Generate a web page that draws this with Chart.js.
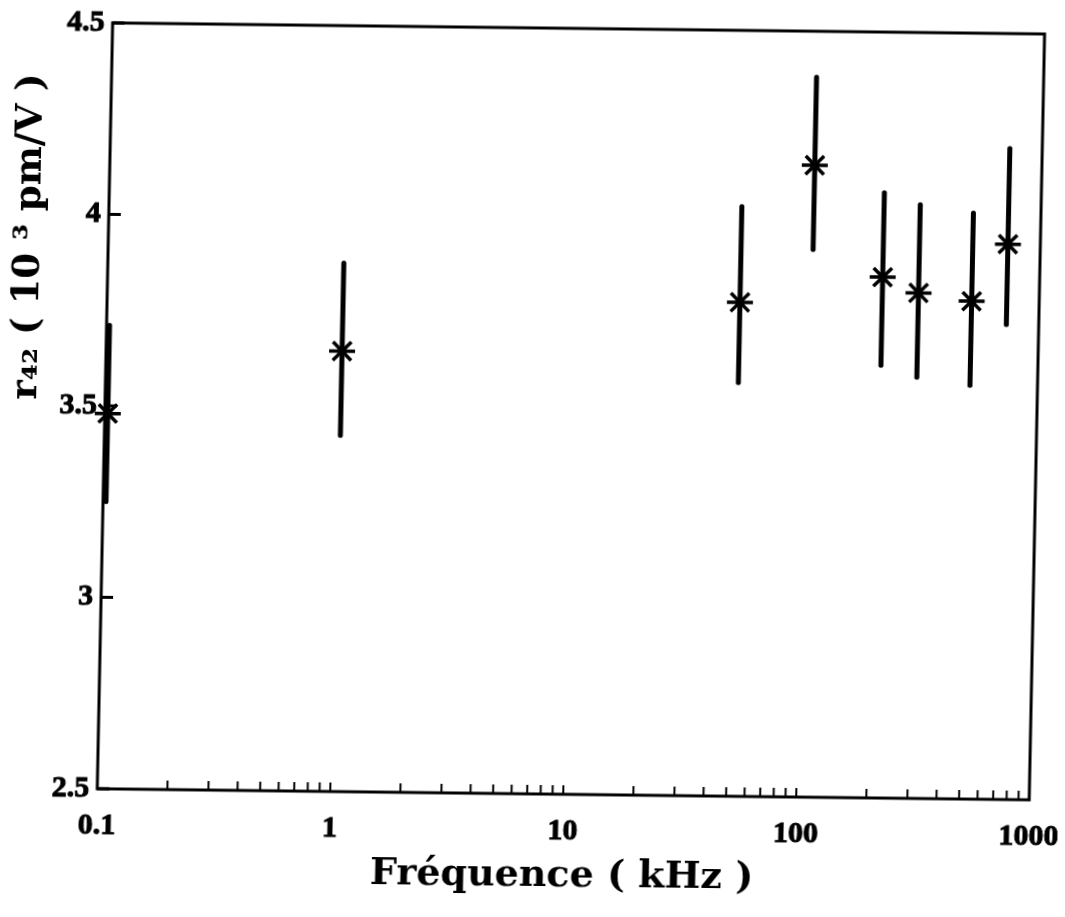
<!DOCTYPE html>
<html><head><meta charset="utf-8">
<script src="https://cdn.jsdelivr.net/npm/chart.js@4.4.1/dist/chart.umd.min.js"></script>
<style>
html,body{margin:0;padding:0;background:#fff;}
#wrap{width:1065px;height:917px;overflow:hidden;background:#fff;}
#c{display:block;transform-origin:532.5px 458.5px;transform:matrix(1,0.0119,-0.0201,1,0,0);}
</style></head><body>
<div id="wrap"><canvas id="c" width="1065" height="917"></canvas></div>
<script>
// ---- data ----
const frequencies = [0.103, 1.03, 52, 106, 212, 303, 513, 726];      // kHz
const r42Values   = [3.48, 3.65, 3.79, 4.15, 3.86, 3.82, 3.80, 3.95]; // 10^3 pm/V
const errLow      = [3.25, 3.43, 3.58, 3.93, 3.63, 3.60, 3.58, 3.74];
const errHigh     = [3.71, 3.88, 4.04, 4.38, 4.08, 4.05, 4.03, 4.20];

const xTickValues = [0.1, 1, 10, 100, 1000];
const xTickLabels = ['0.1', '1', '10', '100', '1000'];
const xMinorMultipliers = [1, 2, 3, 4, 5, 6, 7, 8, 9];
const yTickValues = [2.5, 3, 3.5, 4, 4.5];
const yTickLabels = ['2.5', '3', '3.5', '4', '4.5'];
const xTitle = 'Fréquence ( kHz )';
const yTitle = 'r₄₂ ( 10 ³ pm/V )';

const tickFont = {family: '"Liberation Serif", "Times New Roman", serif', size: 30, weight: 'bold'};

const framePlugin = {
  id: 'frameTicksErrors',
  beforeDatasetsDraw(chart) {
    const {ctx, scales: {x, y}} = chart;
    ctx.save();
    ctx.strokeStyle = '#000';
    ctx.lineCap = 'round';
    ctx.lineWidth = 5;
    frequencies.forEach((f, i) => {
      const px = x.getPixelForValue(f);
      ctx.beginPath();
      ctx.moveTo(px, y.getPixelForValue(errLow[i]));
      ctx.lineTo(px, y.getPixelForValue(errHigh[i]));
      ctx.stroke();
    });
    ctx.restore();
  },
  afterDraw(chart) {
    const {ctx, chartArea: a, scales: {x, y}} = chart;
    ctx.save();
    ctx.strokeStyle = '#000';
    ctx.lineWidth = 3;
    ctx.strokeRect(a.left, a.top, a.right - a.left, a.bottom - a.top);
    // minor ticks on bottom axis (inward)
    ctx.lineWidth = 2;
    xTickValues.slice(0, -1).forEach(d => {
      xMinorMultipliers.forEach(m => {
        const px = x.getPixelForValue(d * m);
        ctx.beginPath();
        ctx.moveTo(px, a.bottom);
        ctx.lineTo(px, a.bottom - 9);
        ctx.stroke();
      });
    });
    // y ticks (inward)
    ctx.lineWidth = 3;
    yTickValues.forEach(v => {
      const py = y.getPixelForValue(v);
      ctx.beginPath();
      ctx.moveTo(a.left, py);
      ctx.lineTo(a.left + 12, py);
      ctx.stroke();
    });
    ctx.restore();
  }
};

new Chart(document.getElementById('c'), {
  type: 'scatter',
  data: {
    datasets: [{
      data: frequencies.map((f, i) => ({x: f, y: r42Values[i]})),
      pointStyle: 'star',
      pointRadius: 13,
      pointHoverRadius: 13,
      pointBorderWidth: 3.5,
      borderColor: '#000',
      backgroundColor: '#000',
      showLine: false,
      clip: false
    }]
  },
  options: {
    responsive: false,
    animation: false,
    devicePixelRatio: 1,
    layout: {padding: {top: 28, right: 29, bottom: 0, left: 0}},
    plugins: {legend: {display: false}, tooltip: {enabled: false}},
    scales: {
      x: {
        type: 'logarithmic',
        position: 'bottom',
        min: 0.1,
        max: 1000,
        grid: {display: false, drawTicks: false},
        border: {display: false},
        afterBuildTicks: s => { s.ticks = xTickValues.map(v => ({value: v})); },
        afterFit: s => { s.height = 123; s.paddingLeft = 0; s.paddingRight = 0; },
        ticks: {
          autoSkip: false, maxRotation: 0, minRotation: 0, padding: 19, color: '#000', font: tickFont,
          textStrokeColor: '#000', textStrokeWidth: 1,
          callback: v => { const i = xTickValues.indexOf(v); return i >= 0 ? xTickLabels[i] : ''; }
        },
        title: {
          display: true, text: xTitle, color: '#000',
          font: {family: '"DejaVu Serif", serif', size: 38, weight: 'bold'},
          padding: {top: 0, bottom: 18}
        }
      },
      y: {
        type: 'linear',
        min: 2.5,
        max: 4.5,
        grid: {display: false, drawTicks: false},
        border: {display: false},
        afterBuildTicks: s => { s.ticks = yTickValues.map(v => ({value: v})); },
        afterFit: s => { s.width = 104; },
        ticks: {
          padding: 8, color: '#000', font: tickFont,
          textStrokeColor: '#000', textStrokeWidth: 1,
          callback: v => { const i = yTickValues.indexOf(v); return i >= 0 ? yTickLabels[i] : ''; }
        },
        title: {
          display: true, text: yTitle + '    ', align: 'end', color: '#000',
          font: {family: '"DejaVu Serif", serif', size: 37, weight: 'bold'},
          padding: {top: 3, bottom: 0}
        }
      }
    }
  },
  plugins: [framePlugin]
});
</script>
</body></html>
